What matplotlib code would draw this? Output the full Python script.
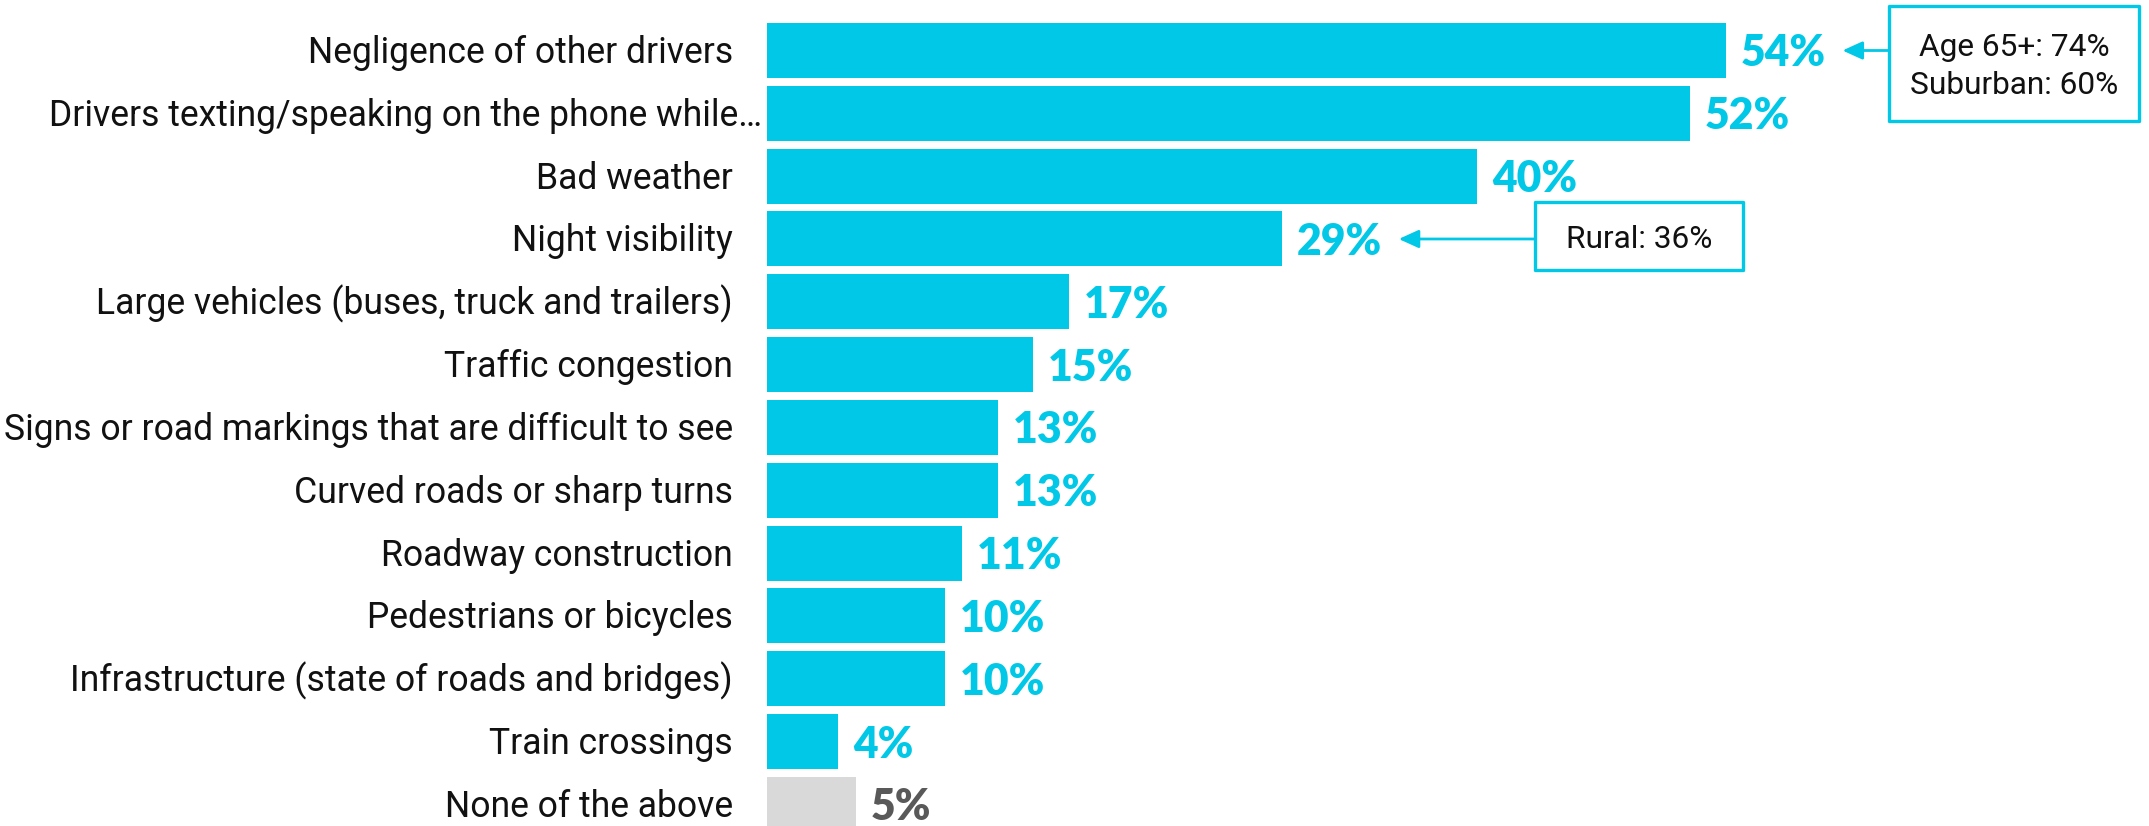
import matplotlib
matplotlib.use("Agg")
import matplotlib.pyplot as plt
from matplotlib import transforms
from matplotlib.patches import Rectangle

# ---------------- data ----------------
categories = [
    "Negligence of other drivers",
    "Drivers texting/speaking on the phone while\u2026",
    "Bad weather",
    "Night visibility",
    "Large vehicles (buses, truck and trailers)",
    "Traffic congestion",
    "Signs or road markings that are difficult to see",
    "Curved roads or sharp turns",
    "Roadway construction",
    "Pedestrians or bicycles",
    "Infrastructure (state of roads and bridges)",
    "Train crossings",
    "None of the above",
]
values = [54, 52, 40, 29, 17, 15, 13, 13, 11, 10, 10, 4, 5]
callout_rows = [0, 3]
callout_lines = [["Age 65+: 74%", "Suburban: 60%"], ["Rural: 36%"]]

# ---------------- style ----------------
CYAN = "#00C8E6"
GREY_BAR = "#D9D9D9"
GREY_TXT = "#595959"
LABEL_FONT = "Roboto"
VALUE_FONT = "Lato"

W, H = 2149, 826
fig = plt.figure(figsize=(W / 100, H / 100), dpi=100)
ax_left = 767
ax = fig.add_axes([ax_left / W, 0, (W - ax_left) / W, 1])
px_per_unit = 17.75
pitch = 62.83
c0 = 50.5
ax.set_xlim(0, (W - ax_left) / px_per_unit)
ax.set_ylim((H - c0) / pitch, -c0 / pitch)
ax.axis("off")

n = len(categories)
bar_colors = [CYAN] * (n - 1) + [GREY_BAR]
txt_colors = [CYAN] * (n - 1) + [GREY_TXT]
ax.barh(range(n), values, height=55 / pitch, color=bar_colors)

renderer = fig.canvas.get_renderer()


def fit(text, target, **kw):
    t = fig.text(0, 0, text, fontsize=20, **kw)
    w = t.get_window_extent(renderer).width
    t.remove()
    return 20 * target / w


label_fs = fit(categories[0], 425, family=LABEL_FONT)
value_fs = fit("54%", 85, family=VALUE_FONT, fontweight="heavy")
box_fs = fit("Suburban: 60%", 209, family=LABEL_FONT)

for i, (c, v) in enumerate(zip(categories, values)):
    off = -5 if c.endswith("\u2026") else -34
    ax.annotate(c, xy=(0, i), xytext=(off, -12.5), textcoords="offset pixels",
                ha="right", va="baseline", fontsize=label_fs,
                family=LABEL_FONT, color="#111111")
    ax.annotate(f"{v}%", xy=(v, i), xytext=(15, -16), textcoords="offset pixels",
                ha="left", va="baseline", fontsize=value_fs, fontweight="heavy",
                family=VALUE_FONT, color=txt_colors[i])

# pixel transform (origin top-left)
pt = transforms.Affine2D().scale(1 / W, -1 / H).translate(0, 1) + fig.transFigure
boxes = [(1889, 6, 250, 115), (1535, 202, 208, 68)]
baselines = [[56, 94], [248]]

for r, lines, (bx, by, bw, bh), bls in zip(callout_rows, callout_lines, boxes, baselines):
    rect = Rectangle((bx, by), bw, bh, transform=pt, facecolor="white",
                     edgecolor=CYAN, lw=2.4, joinstyle="round", zorder=5)
    fig.add_artist(rect)
    for line, bl in zip(lines, bls):
        fig.text(bx + bw / 2, bl, line, transform=pt, ha="center",
                 va="baseline", fontsize=box_fs, family=LABEL_FONT,
                 color="#111111", zorder=6)
    ax.annotate("", xy=(values[r], r),
                xycoords=ax.transData + transforms.ScaledTranslation(1.17, 0, fig.dpi_scale_trans),
                xytext=(bx, r),
                textcoords=transforms.blended_transform_factory(pt, ax.transData),
                arrowprops=dict(arrowstyle="-|>,head_length=1.1,head_width=0.5",
                                mutation_scale=11, lw=2.0, color=CYAN,
                                shrinkA=0, shrinkB=0),
                annotation_clip=False)

fig.savefig("out.png", dpi=100)
